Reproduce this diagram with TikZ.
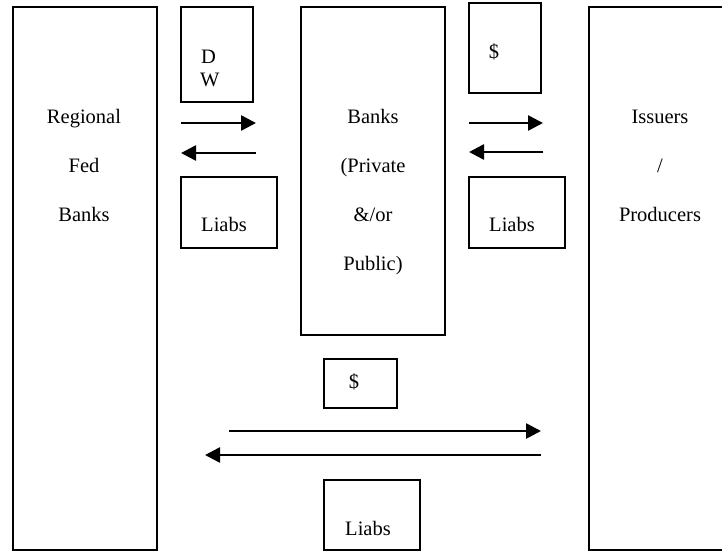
\documentclass[tikz,border=0pt]{standalone}
\usepackage{fontspec}
\setmainfont{Liberation Serif}
\usetikzlibrary{arrows.meta}
\begin{document}
\begin{tikzpicture}[x=1pt,y=-1pt,
  box/.style={draw=black,line width=1.8pt},
  lbl/.style={anchor=base,inner sep=0pt,font=\fontsize{20.5}{24}\selectfont},
  flow/.style={line width=2.6pt,-{Triangle[length=15pt,width=15pt]}}]
\clip (0,0) rectangle (722,552);
\useasboundingbox (0,0) rectangle (722,552);
% boxes
\draw[box] (13,7) rectangle (157,550) coordinate (fedBR);
\node[inner sep=0pt] (fed) at (85,278.5) {};
\draw[box] (181,7) rectangle (253,102);
\draw[box] (181,177) rectangle (277,248);
\draw[box] (301,7) rectangle (445,335);
\draw[box] (469,3) rectangle (541,93);
\draw[box] (469,177) rectangle (565,248);
\draw[box] (589,7) rectangle (740,550);
\draw[box] (324,359) rectangle (397,408);
\draw[box] (324,480) rectangle (420,550);
% texts
\node[lbl] (t1) at (84,123) {Regional};
\node[lbl] (t2) at (84,172) {Fed};
\node[lbl] (t3) at (84,221) {Banks};
\node[lbl,anchor=base west] (d1) at (201,63) {D};
\node[lbl,anchor=base west] (d2) at (200,86) {W};
\node[lbl] (l1) at (224,231) {Liabs};
\node[lbl] (b1) at (373,123) {Banks};
\node[lbl] (b2) at (373,172) {(Private};
\node[lbl] (b3) at (373,221) {\&/or};
\node[lbl] (b4) at (373,270) {Public)};
\node[lbl] (s1) at (494,58) {\$};
\node[lbl] (l2) at (512,231) {Liabs};
\node[lbl] (i1) at (660,123) {Issuers};
\node[lbl] (i2) at (660,172) {/};
\node[lbl] (i3) at (660,221) {Producers};
\node[lbl] (s2) at (354,388) {\$};
\node[lbl] (l3) at (368,535) {Liabs};
% arrow end points
\coordinate (a1s) at (181,123); \coordinate (a1e) at (256,123);
\coordinate (a2s) at (256,153); \coordinate (a2e) at (181,153);
\coordinate (a3s) at (469,123); \coordinate (a3e) at (543,123);
\coordinate (a4s) at (543,152); \coordinate (a4e) at (469,152);
\coordinate (a5s) at (229,431); \coordinate (a5e) at (541,431);
\coordinate (a6s) at (541,455); \coordinate (a6e) at (205,455);
\draw[flow] (a1s) -- (a1e);
\draw[flow] (a2s) -- (a2e);
\draw[flow] (a3s) -- (a3e);
\draw[flow] (a4s) -- (a4e);
\draw[flow] (a5s) -- (a5e);
\draw[flow] (a6s) -- (a6e);
\end{tikzpicture}
\end{document}
